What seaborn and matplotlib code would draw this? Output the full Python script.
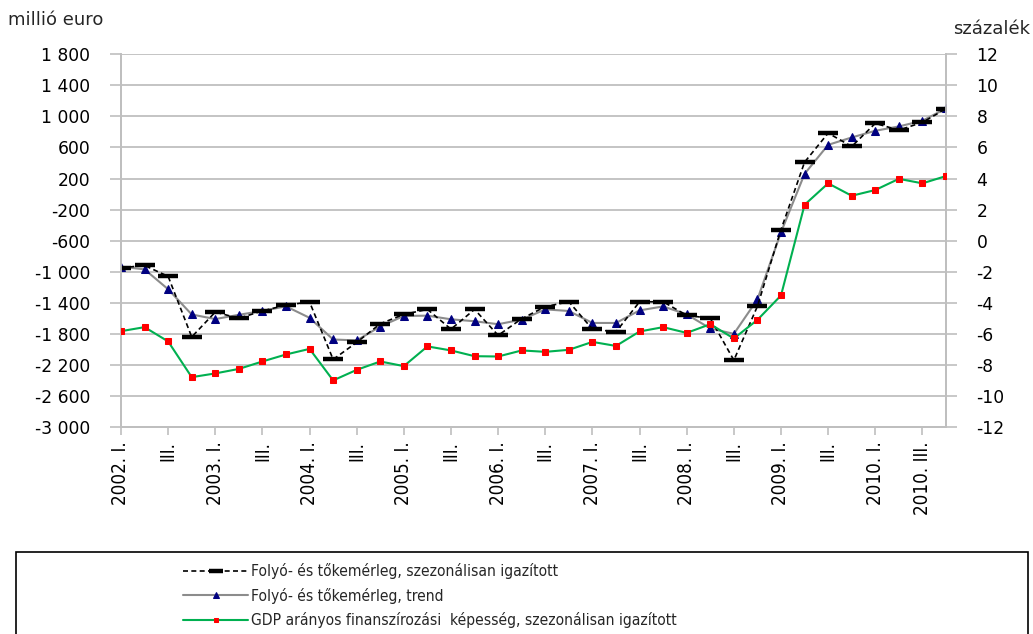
import matplotlib
matplotlib.use("Agg")
import matplotlib.pyplot as plt
from matplotlib.patches import Rectangle
from matplotlib.font_manager import FontProperties, fontManager
import seaborn as sns
import pandas as pd
import numpy as np

# ---- data ----
quarters = [f"{y} Q{q}" for y in range(2002, 2011) for q in range(1, 5)]
seasonal = [-950, -920, -1060, -1840,
            -1520, -1600, -1505, -1430,
            -1390, -2130, -1910, -1670,
            -1550, -1485, -1740, -1485,
            -1820, -1605, -1450, -1387,
            -1740, -1775, -1387, -1387,
            -1562, -1600, -2140, -1445,
            -458, 411, 785, 613,
            910, 824, 923, 1099]
trend = [-935, -970, -1226, -1551,
         -1610, -1555, -1505, -1446,
         -1594, -1873, -1885, -1706,
         -1570, -1566, -1613, -1638,
         -1676, -1617, -1485, -1506,
         -1660, -1660, -1498, -1447,
         -1549, -1731, -1800, -1357,
         -492, 260, 634, 729,
         815, 871, 944, 1103]
gdp_pct = [-5.83, -5.57, -6.49, -8.79,
           -8.55, -8.26, -7.78, -7.33,
           -6.97, -9.00, -8.32, -7.78,
           -8.08, -6.81, -7.07, -7.44,
           -7.46, -7.07, -7.16, -7.03,
           -6.52, -6.78, -5.85, -5.57,
           -5.94, -5.38, -6.30, -5.10,
           -3.53, 2.31, 3.69, 2.89,
           3.26, 3.98, 3.69, 4.16]
x_labels = ["2002. I.", "III.", "2003. I.", "III.", "2004. I.", "III.",
            "2005. I.", "III.", "2006. I.", "III.", "2007. I.", "III.",
            "2008. I.", "III.", "2009. I.", "III.", "2010. I.", "2010. III."]
left_ticks = [1800, 1400, 1000, 600, 200, -200, -600, -1000, -1400, -1800, -2200, -2600, -3000]
left_labels = ["1 800", "1 400", "1 000", "600", "200", "-200", "-600", "-1 000",
               "-1 400", "-1 800", "-2 200", "-2 600", "-3 000"]
right_ticks = [12, 10, 8, 6, 4, 2, 0, -2, -4, -6, -8, -10, -12]
right_labels = [str(v) for v in right_ticks]
series_names = ["Folyó- és tőkemérleg, szezonálisan igazított",
                "Folyó- és tőkemérleg, trend",
                "GDP arányos finanszírozási  képesség, szezonálisan igazított"]

df = pd.DataFrame({"q": quarters, "idx": np.arange(len(quarters)),
                   "seasonal": seasonal, "trend": trend, "gdp": gdp_pct})

sns.set_theme(style="white")
plt.rcParams["font.family"] = ["DejaVu Sans"]

# condensed font for category labels / legend
cond_path = None
for f in fontManager.ttflist:
    if f.name == "DejaVu Sans" and f.stretch == "condensed" and f.weight in (400, "normal") and f.style == "normal":
        cond_path = f.fname
        break
if cond_path:
    xfont = FontProperties(fname=cond_path, size=13.5)
    lfont = FontProperties(fname=cond_path, size=11.2)
else:
    xfont = FontProperties(family="DejaVu Sans", stretch="condensed", size=13.5)
    lfont = FontProperties(family="DejaVu Sans", stretch="condensed", size=11.2)

fig = plt.figure(figsize=(10.33, 6.34), dpi=100)
ax = fig.add_axes([121/1033, 1 - 427/634, (946-121)/1033, (427-54.3)/634])
ax2 = ax.twinx()

grid_c = "#bfbfbf"

sns.lineplot(data=df, x="idx", y="seasonal", ax=ax, color="black", linestyle=(0, (3, 2)),
             linewidth=1.2, marker="_", markersize=14, markeredgewidth=3.2,
             markeredgecolor="black", label=series_names[0], zorder=4)
sns.lineplot(data=df, x="idx", y="trend", ax=ax, color="#8c8c8c", linewidth=1.5,
             marker="^", markersize=6, markerfacecolor="#000080", markeredgecolor="#000080",
             label=series_names[1], zorder=3)
sns.lineplot(data=df, x="idx", y="gdp", ax=ax2, color="#00b050", linewidth=1.5,
             marker="s", markersize=4, markerfacecolor="#ff0000", markeredgecolor="#ff0000",
             label=series_names[2], zorder=3)

ax.set_ylim(-3000, 1800)
ax2.set_ylim(-12, 12)
ax.set_xlim(0, len(quarters) - 1)

ax.set_yticks(left_ticks)
ax.set_yticklabels(left_labels, fontsize=12.3)
ax2.set_yticks(right_ticks)
ax2.set_yticklabels(right_labels, fontsize=12.3)
ax.set_xticks(np.arange(0, len(quarters), 2))
ax.set_xticklabels(x_labels, rotation=90, fontproperties=xfont)

ax.grid(axis="y", color=grid_c, linewidth=1.3)
ax.grid(axis="x", visible=False)
ax2.grid(False)
for a in (ax, ax2):
    a.spines["top"].set_visible(False)
    for s in ["left", "right", "bottom"]:
        a.spines[s].set_color(grid_c)
        a.spines[s].set_linewidth(1.3)
ax.set_xlabel("")
ax.set_ylabel("")
ax2.set_ylabel("")
ax.tick_params(axis="y", which="both", left=True, length=8, width=1.2, color=grid_c, pad=14, labelcolor="black")
ax2.tick_params(axis="y", which="both", right=True, length=8, width=1.2, color=grid_c, pad=14, labelcolor="black")
ax.tick_params(axis="x", bottom=True, length=6, width=1.2, color=grid_c, pad=4, labelcolor="black")

h1, l1 = ax.get_legend_handles_labels()
h2, l2 = ax2.get_legend_handles_labels()
if ax.get_legend():
    ax.get_legend().remove()
if ax2.get_legend():
    ax2.get_legend().remove()

fig.text(8/1033, 1 - 20/634, "millió euro", fontsize=13, va="center", ha="left")
fig.text(1030/1033, 1 - 29/634, "százalék", fontsize=13, va="center", ha="right")

fig.patches.append(Rectangle((16/1033, -0.05), (1028-16)/1033, 0.05 + 1 - 552/634,
                             transform=fig.transFigure, fill=False, edgecolor="black",
                             linewidth=1.2))
leg = fig.legend(h1 + h2, l1 + l2, loc="upper left",
                 bbox_to_anchor=(183/1033, 1 - 563/634), frameon=False,
                 prop=lfont, handlelength=4.2,
                 handletextpad=0.2, labelspacing=0.55, borderaxespad=0, borderpad=0)
for h in leg.legend_handles:
    h.set_markersize(h.get_markersize() * 0.7)

fig.savefig("out.png", dpi=100)
